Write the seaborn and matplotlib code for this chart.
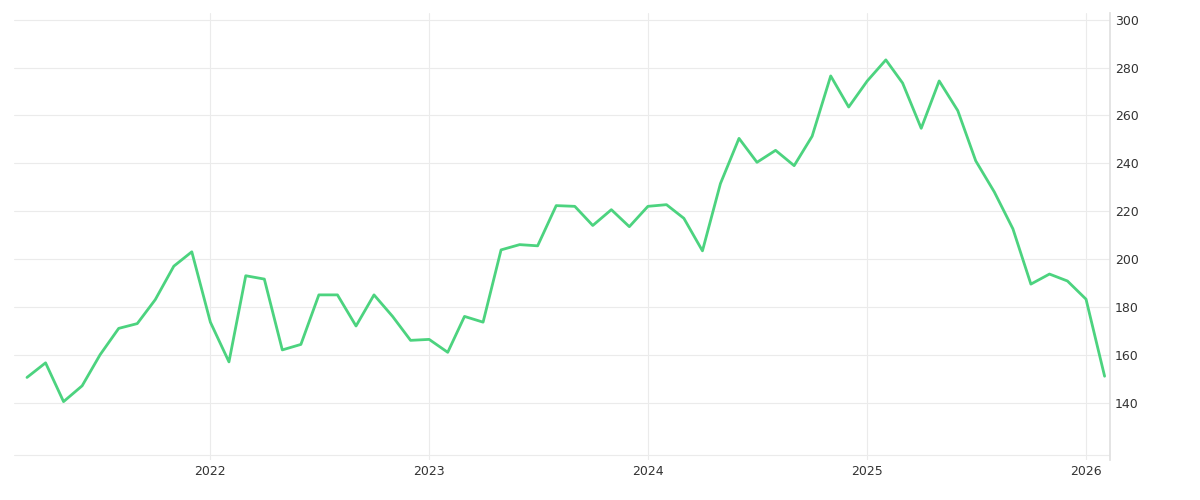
import pandas as pd
import matplotlib.pyplot as plt
import matplotlib.dates as mdates
import seaborn as sns

start_month = "2021-03-01"
values = [150.5, 156.6, 140.4, 147, 160, 171, 173, 183, 197, 203,
          173.6, 157, 193, 191.6, 162, 164.3, 185, 185, 172, 185, 176, 166,
          166.4, 161, 176, 173.6, 203.8, 206, 205.5, 222.3, 222, 214, 220.6, 213.5,
          222, 222.7, 217, 203.4, 231.5, 250.4, 240.4, 245.4, 239, 251.3, 276.5, 263.5,
          274.4, 283.2, 273.5, 254.6, 274.4, 262, 241, 228, 212.6, 189.5, 193.7, 190.8,
          183.2, 151]
y_ticks = [140, 160, 180, 200, 220, 240, 260, 280, 300]

df = pd.DataFrame({"date": pd.date_range(start_month, periods=len(values), freq="MS"),
                   "value": values})

sns.set_theme(style="white")
fig, ax = plt.subplots(figsize=(12, 5), dpi=100)
sns.lineplot(data=df, x="date", y="value", color="#4cd37f", linewidth=2, ax=ax)

ax.yaxis.tick_right()
ax.set_yticks(y_ticks)
ax.set_ylim(116, 303)
ax.set_xlim(pd.Timestamp("2021-02-08"), pd.Timestamp("2026-02-10"))
ax.xaxis.set_major_locator(mdates.YearLocator())
ax.xaxis.set_major_formatter(mdates.DateFormatter("%Y"))
ax.grid(True, color="#ebebeb", linewidth=0.8)
ax.axhline(118, color="#ebebeb", linewidth=0.8, zorder=0)
ax.set_axisbelow(True)
for side in ["top", "left", "bottom"]:
    ax.spines[side].set_visible(False)
ax.spines["right"].set_color("#e0e0e0")
ax.tick_params(axis="both", labelsize=9, colors="#333333", length=0)
ax.set_xlabel("")
ax.set_ylabel("")

plt.subplots_adjust(left=0.012, right=0.925, top=0.975, bottom=0.08)
plt.savefig("out.png", dpi=100)
